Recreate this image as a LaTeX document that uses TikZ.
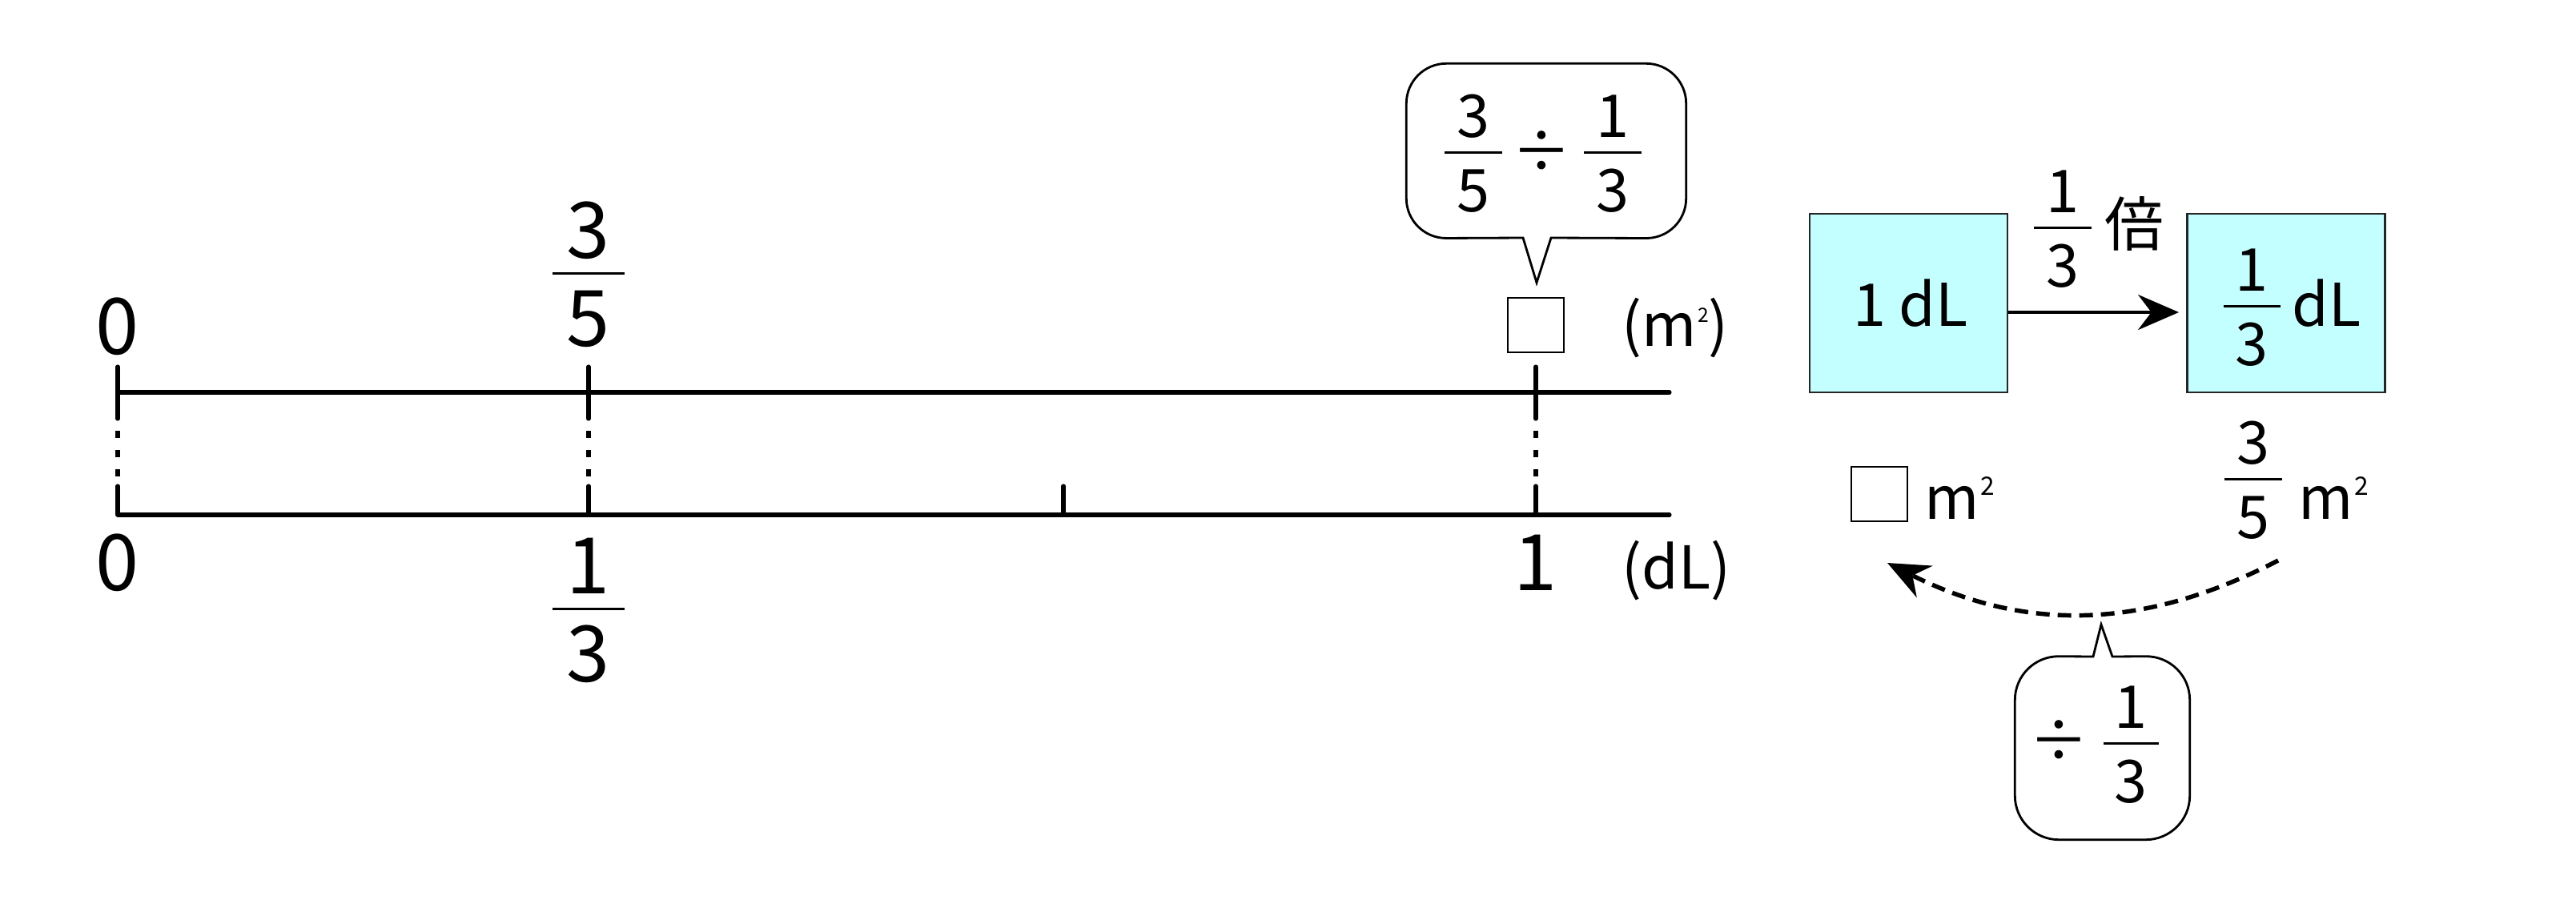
\documentclass[tikz,border=0pt]{standalone}
\usepackage{fontspec}
\setmainfont{Noto Sans CJK JP}
\usetikzlibrary{arrows.meta,positioning}

\definecolor{boxcyan}{RGB}{196,255,255}

% fraction: [digit style]{name}{bar centre}{bar half width}{numerator}{denominator}
\newcommand{\fracnode}[6][smalldigit]{%
  \node[#1, anchor=south] (#2n) at ([yshift=0.18cm]#3) {#5};
  \node[#1, anchor=north] (#2d) at ([yshift=-0.19cm]#3) {#6};
  \draw[fracbar] ([xshift=-#4]#3) -- ([xshift=#4]#3);}
% small square index
\newcommand{\sqidx}[1]{\hspace{0.01cm}\raisebox{0.3cm}{\fontsize{#1}{#1}\selectfont 2}}

\tikzset{
  bigdigit/.style={font=\fontsize{27.7}{30}\selectfont, inner sep=0pt, text height=0.72cm, text depth=0pt},
  smalldigit/.style={font=\fontsize{21}{24}\selectfont, inner sep=0pt, text height=0.55cm, text depth=0pt},
  txt/.style={font=\fontsize{21}{24}\selectfont, inner sep=0pt},
  fracbar/.style={line width=0.85pt},
  numline/.style={line width=1.45pt, line cap=round},
  tick/.style={line width=1.45pt, line cap=round},
  guide/.style={line width=1.45pt, dash pattern=on 0.09cm off 0.15cm, dash phase=0.09cm},
  ansbox/.style={draw, line width=0.8pt, minimum width=0.70cm, minimum height=0.68cm, inner sep=0pt},
  cbox/.style={draw=black!85, line width=0.8pt, fill=boxcyan, minimum width=2.47cm, minimum height=2.23cm, inner sep=0pt},
  callout/.style={draw, line width=0.8pt, fill=white},
  arr/.style={line width=1.3pt, -{Stealth[length=0.51cm, width=0.44cm]}},
  dasharr/.style={line width=1.55pt, dash pattern=on 0.17cm off 0.1cm, -{Stealth[length=0.52cm, width=0.44cm]}}
}

\begin{document}
\begin{tikzpicture}
\useasboundingbox (0,0) rectangle (32.17,-11.28);

% number lines
\coordinate (a0) at (1.47,-4.90);
\coordinate (a1) at (20.85,-4.90);
\coordinate (b0) at (1.47,-6.43);
\coordinate (b1) at (20.85,-6.43);
\coordinate (a13) at (7.35,-4.90);
\coordinate (b13) at (7.35,-6.43);
\coordinate (a1t) at (19.18,-4.90);
\coordinate (b1t) at (19.18,-6.43);
\coordinate (b23) at (13.28,-6.43);
\draw[numline] (a0) -- (a1);
\draw[numline] (b0) -- (b1);

\draw[tick] ([yshift=0.32cm]a0) -- ([yshift=-0.33cm]a0);
\draw[guide] ([yshift=-0.33cm]a0) -- ([yshift=0.36cm]b0);
\draw[tick] ([yshift=0.36cm]b0) -- (b0);
\draw[tick] ([yshift=0.32cm]a13) -- ([yshift=-0.33cm]a13);
\draw[guide] ([yshift=-0.33cm]a13) -- ([yshift=0.36cm]b13);
\draw[tick] ([yshift=0.36cm]b13) -- (b13);
\draw[tick] ([yshift=0.32cm]a1t) -- ([yshift=-0.33cm]a1t);
\draw[guide] ([yshift=-0.33cm]a1t) -- ([yshift=0.36cm]b1t);
\draw[tick] ([yshift=0.36cm]b1t) -- (b1t);
\draw[tick] ([yshift=0.36cm]b23) -- (b23);

% labels of the number lines
\node[bigdigit, anchor=base] (z0) at (1.47,-4.42) {0};
\node[bigdigit, anchor=base] (z0b) at (1.47,-7.37) {0};
\fracnode[bigdigit]{p}{7.35,-3.41}{0.45cm}{3}{5}
\fracnode[bigdigit]{r}{7.35,-7.60}{0.45cm}{1}{3}
\node[bigdigit, anchor=base] (one) at (19.18,-7.37) {1};
\node[ansbox] (ans1) at (19.18,-4.06) {};
\node[txt, anchor=west] (um) at (20.25,-4.10) {(m\sqidx{7})};
\node[txt, anchor=west] (ud) at (20.25,-7.13) {(dL)};

% callout over the box
\node[minimum width=3.48cm, minimum height=2.17cm] (eq) at (19.31,-1.885) {};
\coordinate (eqbl) at (19.02,-2.97);
\coordinate (eqbr) at (19.37,-2.97);
\coordinate (eqtip) at (19.19,-3.53);
\draw[callout] (eqbl) [rounded corners=0.5cm] -- (eq.south west) -- (eq.north west) -- (eq.north east) -- (eq.south east) [sharp corners] -- (eqbr) -- (eqtip) -- cycle;
\fracnode{c}{18.40,-1.90}{0.36cm}{3}{5}
\node[txt] (dv) at (19.25,-1.90) {÷};
\fracnode{e}{20.14,-1.90}{0.36cm}{1}{3}

% boxes on the right
\node[cbox] (box1) at (23.835,-3.785) {};
\node[cbox] (box2) at (28.55,-3.785) {};
\draw[arr] ([yshift=-0.115cm]box1.east) -- ([yshift=-0.115cm,xshift=-0.09cm]box2.west);
\node[txt, anchor=base] (t1dL) at (23.86,-4.07) {1 dL};
\fracnode{q}{28.12,-3.82}{0.355cm}{1}{3}
\node[txt, anchor=base west] (qdL) at (28.62,-4.07) {dL};
\fracnode{k}{25.76,-2.84}{0.36cm}{1}{3}
\node[txt] (bai) at (26.65,-2.79) {倍};

% areas
\node[ansbox] (ans2) at (23.47,-6.17) {};
\node[txt, anchor=base west] (m2a) at (24.03,-6.48) {m\sqidx{9}};
\fracnode{v}{28.14,-5.98}{0.36cm}{3}{5}
\node[txt, anchor=base west] (m2b) at (28.70,-6.48) {m\sqidx{9}};
\coordinate (arcs) at (28.45,-7.00);
\coordinate (arce) at (23.57,-7.03);
\draw[dasharr] (arcs) to[bend left=27] (arce);

% callout under the arc
\node[minimum width=2.17cm, minimum height=2.28cm] (div) at (26.255,-9.34) {};
\coordinate (divbl) at (26.14,-8.20);
\coordinate (divbr) at (26.38,-8.20);
\coordinate (divtip) at (26.24,-7.80);
\draw[callout] (divbr) [rounded corners=0.55cm] -- (div.north east) -- (div.south east) -- (div.south west) -- (div.north west) [sharp corners] -- (divbl) -- (divtip) -- cycle;
\node[txt] (divsym) at (25.71,-9.26) {÷};
\fracnode{w}{26.61,-9.28}{0.345cm}{1}{3}
\end{tikzpicture}
\end{document}
